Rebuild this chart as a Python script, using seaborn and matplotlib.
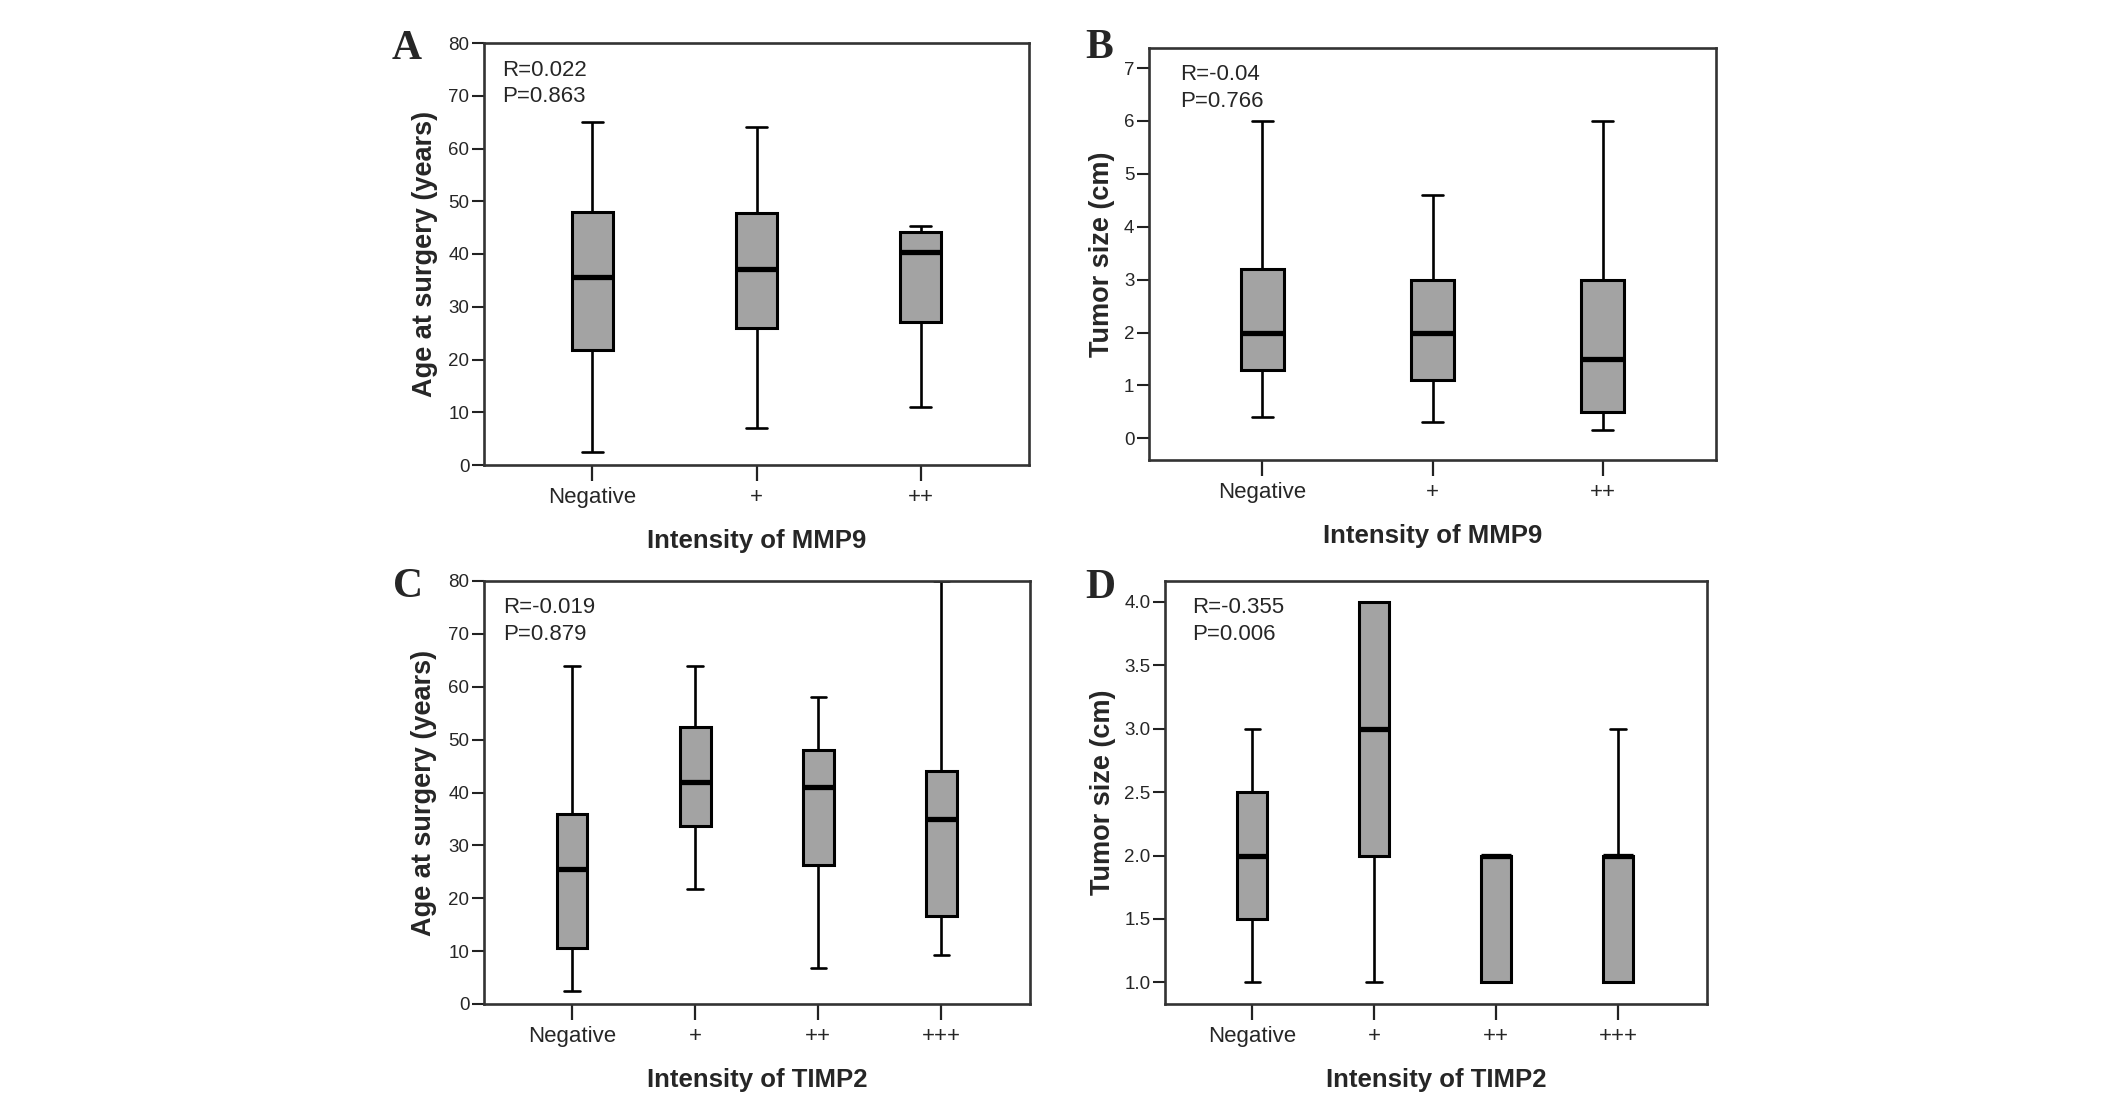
import numpy as np
import pandas as pd
import matplotlib
matplotlib.use("Agg")
import matplotlib.pyplot as plt
import seaborn as sns

# categories
mmp9_levels = ["Negative", "+", "++"]
timp2_levels = ["Negative", "+", "++", "+++"]

# five-number summaries: min, Q1, median, Q3, max
age_by_mmp9 = [[2.5, 21.8, 35.7, 48.0, 65.0],
               [7.0, 26.0, 37.1, 47.7, 64.0],
               [11.0, 27.1, 40.4, 44.2, 45.3]]
size_by_mmp9 = [[0.4, 1.3, 2.0, 3.2, 6.0],
                [0.3, 1.1, 2.0, 3.0, 4.6],
                [0.15, 0.5, 1.5, 3.0, 6.0]]
age_by_timp2 = [[2.5, 10.6, 25.5, 36.0, 64.0],
                [21.7, 33.6, 41.9, 52.4, 64.0],
                [6.8, 26.3, 41.0, 48.1, 58.0],
                [9.3, 16.6, 35.0, 44.1, 80.0]]
size_by_timp2 = [[1.0, 1.5, 2.0, 2.5, 3.0],
                 [1.0, 2.0, 3.0, 4.0, 4.0],
                 [1.0, 1.0, 2.0, 2.0, 2.0],
                 [1.0, 1.0, 2.0, 2.0, 3.0]]

r_texts = ["R=0.022", "R=-0.04", "R=-0.019", "R=-0.355"]
p_texts = ["P=0.863", "P=0.766", "P=0.879", "P=0.006"]
letters = ["A", "B", "C", "D"]

sns.set_style("ticks")
plt.rcParams["font.family"] = ["Liberation Sans", "DejaVu Sans"]
narrow = ["Liberation Sans Narrow", "Liberation Sans", "DejaVu Sans"]

W, H = 2126, 1105
fig = plt.figure(figsize=(W / 100, H / 100), dpi=100)


def long_df(levels, vals):
    return pd.DataFrame({"level": np.repeat(levels, [len(v) for v in vals]),
                         "value": np.concatenate(vals)})


# pixel boxes of the axes: left, top, right, bottom
panels = [
    dict(box=(484, 43, 1029, 465), levels=mmp9_levels, vals=age_by_mmp9,
         ylim=(0, 80), yticks=np.arange(0, 81, 10), fmt="{:.0f}",
         xlim=(-0.66, 2.66), ylabel="Age at surgery (years)", xlabel="Intensity of MMP9",
         ylab_x=432, txt_x=502, letter=(392, 59)),
    dict(box=(1149, 48, 1716, 460), levels=mmp9_levels, vals=size_by_mmp9,
         ylim=(-0.41, 7.38), yticks=np.arange(0, 8, 1), fmt="{:.0f}",
         xlim=(-0.665, 2.665), ylabel="Tumor size (cm)", xlabel="Intensity of MMP9",
         ylab_x=1109, txt_x=1180, letter=(1085, 58)),
    dict(box=(484, 581, 1030, 1004), levels=timp2_levels, vals=age_by_timp2,
         ylim=(0, 80), yticks=np.arange(0, 81, 10), fmt="{:.0f}",
         xlim=(-0.715, 3.72), ylabel="Age at surgery (years)", xlabel="Intensity of TIMP2",
         ylab_x=431, txt_x=503, letter=(393, 597)),
    dict(box=(1165, 581, 1707, 1004), levels=timp2_levels, vals=size_by_timp2,
         ylim=(0.83, 4.164), yticks=np.arange(1.0, 4.01, 0.5), fmt="{:.1f}",
         xlim=(-0.715, 3.73), ylabel="Tumor size (cm)", xlabel="Intensity of TIMP2",
         ylab_x=1110, txt_x=1192, letter=(1085, 598)),
]

for i, p in enumerate(panels):
    l, t, r, b = p["box"]
    ax = fig.add_axes([l / W, 1 - b / H, (r - l) / W, (b - t) / H])
    df = long_df(p["levels"], p["vals"])
    sns.boxplot(data=df, x="level", y="value", order=p["levels"], ax=ax,
                width=0.25, color="#a3a3a3", saturation=1, linecolor="black",
                linewidth=2.2, whis=(0, 100), showfliers=False,
                medianprops=dict(linewidth=3.8, color="black"),
                whiskerprops=dict(linewidth=1.9),
                capprops=dict(linewidth=1.9))
    ax.set_xlim(*p["xlim"])
    ax.set_ylim(*p["ylim"])
    ax.set_yticks(p["yticks"])
    ax.set_yticklabels([p["fmt"].format(v) for v in p["yticks"]],
                       family=narrow, fontsize=13.5)
    ax.set_xticks(range(len(p["levels"])))
    ax.set_xticklabels(p["levels"], family=narrow, fontsize=16)
    ax.tick_params(axis="y", length=8.5, width=1.5, pad=2, color="#222222")
    ax.tick_params(axis="x", length=11.5, width=1.6, pad=4, color="#222222")
    for s in ax.spines.values():
        s.set_visible(True)
        s.set_linewidth(1.9)
        s.set_color("#333333")

    ax.set_xlabel(p["xlabel"], fontsize=18.5, fontweight="bold", va="baseline")
    ax.xaxis.set_label_coords(0.5, -83 / (b - t))
    ax.set_ylabel(p["ylabel"], fontsize=19.5, fontweight="bold", va="baseline")
    ax.yaxis.set_label_coords((p["ylab_x"] - l) / (r - l), 0.5)

    tx = (p["txt_x"] - l) / (r - l)
    ry = 1 - (70 - 43) / 422 if t < 100 else 1 - 26.7 / 423
    ax.text(tx, ry, r_texts[i], transform=ax.transAxes, fontsize=16,
            va="center", ha="left")
    ax.text(tx, ry - 27 / (b - t), p_texts[i], transform=ax.transAxes,
            fontsize=16, va="center", ha="left")

    lx, ly = p["letter"]
    fig.text(lx / W, 1 - ly / H, letters[i], family=["Liberation Serif", "DejaVu Serif"],
             fontsize=30, fontweight="bold", va="baseline", ha="left")

fig.savefig("out.png", dpi=100)
